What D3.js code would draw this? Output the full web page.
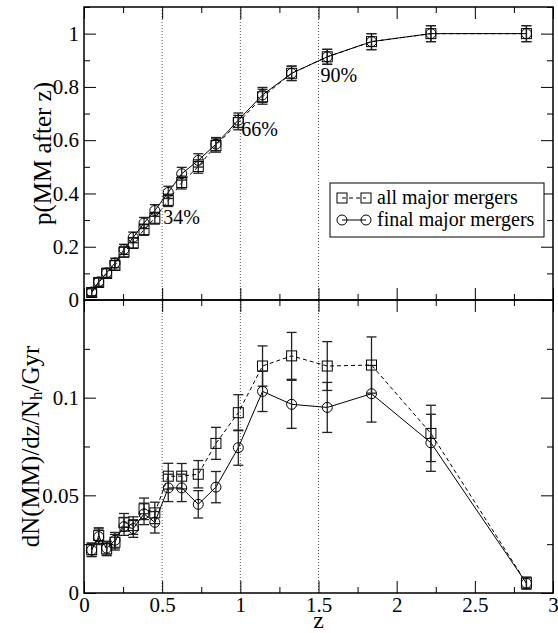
<!DOCTYPE html>
<html><head><meta charset="utf-8">
<script src="https://cdn.jsdelivr.net/npm/d3@7"></script>
<style>body{margin:0;background:#fff}svg{display:block}</style>
</head><body>
<svg id="c" width="558" height="633"></svg>
<script>
const zVals = [0.049,0.094,0.145,0.198,0.256,0.315,0.384,0.453,0.539,0.625,0.731,0.844,0.987,1.142,1.328,1.556,1.839,2.219,2.83];
const pAll   = [0.028,0.066,0.100,0.130,0.180,0.214,0.264,0.307,0.374,0.441,0.501,0.580,0.666,0.763,0.851,0.913,0.970,1.000,1.000];
const pFinal = [0.030,0.068,0.102,0.139,0.190,0.235,0.289,0.336,0.404,0.474,0.524,0.585,0.675,0.770,0.851,0.913,0.970,1.000,1.000];
const pErr   = [0.014,0.016,0.017,0.018,0.019,0.020,0.021,0.022,0.023,0.024,0.025,0.025,0.027,0.028,0.027,0.028,0.030,0.030,0.030];
const dAll   = [0.0222,0.0294,0.0226,0.0260,0.0362,0.0345,0.0431,0.0410,0.0598,0.0598,0.0608,0.0766,0.0923,0.1162,0.1214,0.1162,0.1167,0.0817,0.0051];
const dFinal = [0.0220,0.0288,0.0230,0.0270,0.0340,0.0330,0.0405,0.0362,0.0538,0.0538,0.0454,0.0542,0.0744,0.1032,0.0966,0.0950,0.1020,0.0769,0.0050];
const eAll   = [0.0034,0.0040,0.0035,0.0040,0.0045,0.0045,0.0055,0.0055,0.0066,0.0065,0.0070,0.0082,0.0092,0.0103,0.0120,0.0125,0.0144,0.0144,0.0030];
const eFinal = [0.0034,0.0040,0.0035,0.0040,0.0045,0.0045,0.0055,0.0055,0.0070,0.0070,0.0070,0.0080,0.0090,0.0103,0.0123,0.0128,0.0145,0.0146,0.0030];
const refLines = [0.5, 1.0, 1.5];
const pctLabels = [{z:0.5,p:0.34,t:"34%"},{z:1.0,p:0.66,t:"66%"},{z:1.5,p:0.90,t:"90%"}];
const xTicks = [0,0.5,1,1.5,2,2.5,3];
const yTopTicks = [0,0.2,0.4,0.6,0.8,1];
const yBotTicks = [0,0.05,0.1];
const seriesNames = ["all major mergers","final major mergers"];

const svg = d3.select("#c");
const FONT = "'Liberation Serif','Times New Roman',serif";
const L=84, R=553, T1=7, B1=300, T2=300, B2=593;
const x = d3.scaleLinear().domain([0,3]).range([L,R]);
const yT = d3.scaleLinear().domain([0,1.1]).range([B1,T1]);
const yB = d3.scaleLinear().domain([0,0.15]).range([B2,T2]);

// dotted reference lines
svg.append("g").selectAll("line").data(refLines).join("line")
  .attr("x1",d=>x(d)).attr("x2",d=>x(d)).attr("y1",T1).attr("y2",B2)
  .attr("stroke","#555").attr("stroke-width",1).attr("stroke-dasharray","1,2");

function axes(y, top, bottom, yMajor, yMinorStep, showX, yFmt){
  const xMinor = d3.range(0.25,3,0.5);
  const yMax = y.domain()[1];
  const yMinor = d3.range(yMinorStep, yMax+1e-9, yMinorStep*2);
  const mk = (ax, pos, vals, size, fmt) => {
    const g = svg.append("g").attr("transform",pos)
      .call(ax.tickValues(vals).tickSize(size).tickPadding(4).tickFormat(fmt||""));
    g.select(".domain").remove();
    g.selectAll("line").attr("stroke","#000").attr("stroke-width",1);
    g.selectAll("text").attr("font-family",FONT).attr("font-size",21).attr("fill","#000");
    return g;
  };
  mk(d3.axisBottom(x), `translate(0,${bottom})`, xTicks, -12, showX ? d3.format("") : "");
  mk(d3.axisBottom(x), `translate(0,${bottom})`, xMinor, -6);
  mk(d3.axisTop(x), `translate(0,${top})`, xTicks, -12);
  mk(d3.axisTop(x), `translate(0,${top})`, xMinor, -6);
  const gl = mk(d3.axisLeft(y), `translate(${L},0)`, yMajor, -12, yFmt);
  gl.selectAll("text").attr("dx",-1);
  mk(d3.axisLeft(y), `translate(${L},0)`, yMinor, -6);
  mk(d3.axisRight(y), `translate(${R},0)`, yMajor, -12);
  mk(d3.axisRight(y), `translate(${R},0)`, yMinor, -6);
  svg.append("rect").attr("x",L).attr("y",top).attr("width",R-L).attr("height",bottom-top)
    .attr("fill","none").attr("stroke","#000").attr("stroke-width",1.5);
}
axes(yT, T1, B1, yTopTicks, 0.1, false, d=> d===0?"0":d3.format("")(d));
axes(yB, T2, B2, yBotTicks, 0.025, true, d=> d===0?"0":d3.format("")(d));

function series(y, vals, errs, dashed, sym){
  const g = svg.append("g");
  const pts = zVals.map((z,i)=>({z, v:vals[i], e:errs[i]}));
  g.append("path").datum(pts)
    .attr("d", d3.line().x(d=>x(d.z)).y(d=>y(d.v)))
    .attr("fill","none").attr("stroke","#000").attr("stroke-width",1)
    .attr("stroke-dasharray", dashed ? "4,3" : null);
  const eb = g.append("g").attr("stroke","#222").attr("stroke-width",1.3);
  eb.selectAll("line.v").data(pts).join("line").attr("class","v")
    .attr("x1",d=>x(d.z)).attr("x2",d=>x(d.z)).attr("y1",d=>y(d.v-d.e)).attr("y2",d=>y(d.v+d.e));
  eb.selectAll("line.t").data(pts).join("line").attr("class","t")
    .attr("x1",d=>x(d.z)-5).attr("x2",d=>x(d.z)+5).attr("y1",d=>y(d.v+d.e)).attr("y2",d=>y(d.v+d.e));
  eb.selectAll("line.b").data(pts).join("line").attr("class","b")
    .attr("x1",d=>x(d.z)-5).attr("x2",d=>x(d.z)+5).attr("y1",d=>y(d.v-d.e)).attr("y2",d=>y(d.v-d.e));
  drawSym(g, pts.map(d=>[x(d.z), y(d.v)]), sym);
}
function drawSym(g, xy, sym){
  if(sym==="sq"){
    g.selectAll("rect.s").data(xy).join("rect").attr("class","s")
      .attr("x",d=>d[0]-5).attr("y",d=>d[1]-5).attr("width",10).attr("height",10)
      .attr("fill","none").attr("stroke","#000").attr("stroke-width",1);
  } else {
    g.selectAll("circle.s").data(xy).join("circle").attr("class","s")
      .attr("cx",d=>d[0]).attr("cy",d=>d[1]).attr("r",5)
      .attr("fill","none").attr("stroke","#000").attr("stroke-width",1);
  }
}
series(yT, pAll, pErr, true, "sq");
series(yT, pFinal, pErr, false, "ci");
series(yB, dAll, eAll, true, "sq");
series(yB, dFinal, eFinal, false, "ci");

// percentage labels
svg.append("g").selectAll("text").data(pctLabels).join("text")
  .attr("x",(d,i)=> x(d.z) + (i===2 ? 2 : 1))
  .attr("y",(d,i)=> i===2 ? yT(d.p)+22 : yT(d.p)+ (i===0?15:12))
  .attr("font-family",FONT).attr("font-size",20).attr("fill","#000").text(d=>d.t);

// legend
const lg = svg.append("g");
lg.append("rect").attr("x",330).attr("y",183).attr("width",214).attr("height",54)
  .attr("fill","#fff").attr("stroke","#000").attr("stroke-width",1);
seriesNames.forEach((name,i)=>{
  const cy = 198 + i*22;
  lg.append("line").attr("x1",342).attr("x2",366).attr("y1",cy).attr("y2",cy)
    .attr("stroke","#000").attr("stroke-width",1).attr("stroke-dasharray", i===0?"4,3":null);
  drawSym(lg.append("g"), [[342,cy],[366,cy]], i===0?"sq":"ci");
  lg.append("text").attr("x",377).attr("y",cy+6).attr("font-family",FONT).attr("font-size",20).text(name);
});

// axis titles
svg.append("text").attr("transform",`translate(42,${(T1+B1)/2}) rotate(-90)`)
  .attr("text-anchor","middle").attr("dominant-baseline","central")
  .attr("font-family",FONT).attr("font-size",25).text("p(MM after z)");
const yl = svg.append("text").attr("transform",`translate(30,${(T2+B2)/2}) rotate(-90)`)
  .attr("text-anchor","middle").attr("dominant-baseline","central")
  .attr("font-family",FONT).attr("font-size",25);
yl.append("tspan").text("dN(MM)/dz/N");
yl.append("tspan").attr("font-size",17).attr("dy",6).text("h");
yl.append("tspan").attr("dy",-6).text("/Gyr");
svg.append("text").attr("x",(L+R)/2).attr("y",628).attr("text-anchor","middle")
  .attr("font-family",FONT).attr("font-size",24).text("z");
</script>
</body></html>
